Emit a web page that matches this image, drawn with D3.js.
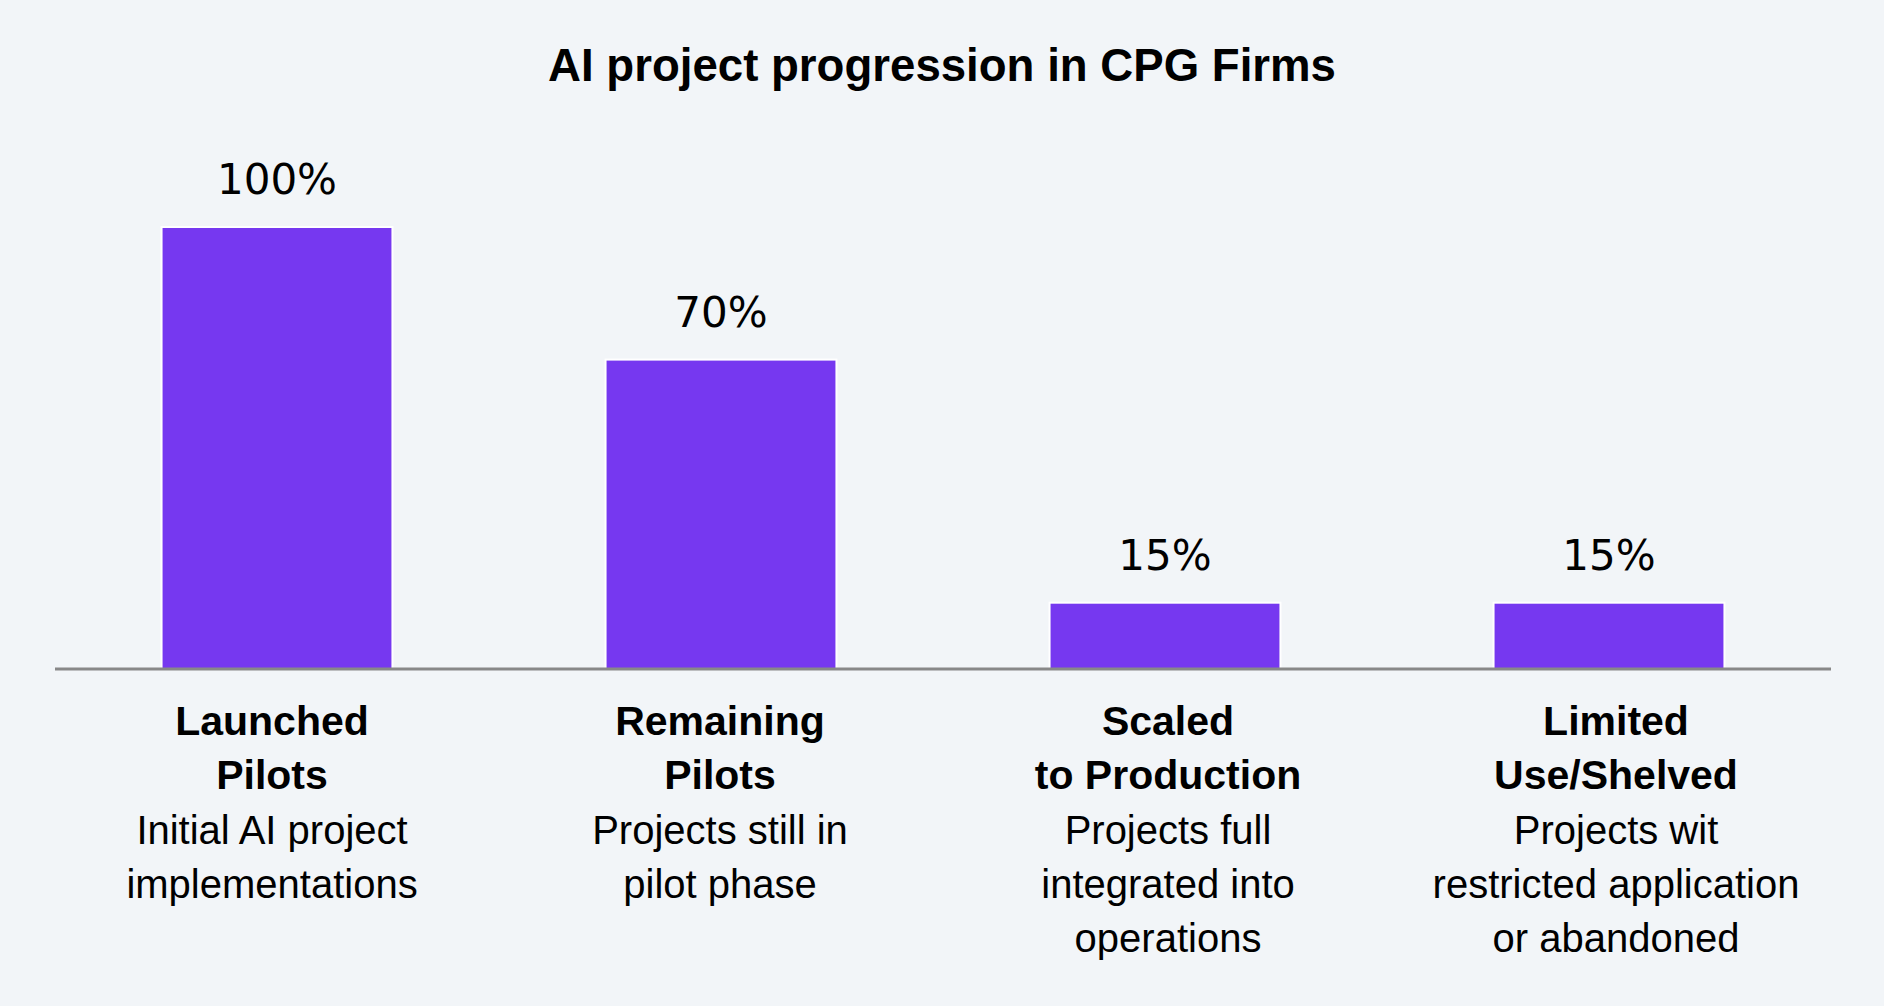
<!DOCTYPE html>
<meta charset="utf-8">
<style>
body {
  margin: 0;
  background: #f2f5f8;
}
.title {
  font: bold 45.6px "Liberation Sans", Arial, sans-serif;
  fill: #000;
}
.value {
  font: 42px "DejaVu Sans", sans-serif;
  fill: #000;
}
.cat {
  font: bold 41px "Liberation Sans", Arial, sans-serif;
  fill: #000;
}
.desc {
  font: 40px "Liberation Sans", Arial, sans-serif;
  fill: #000;
}
.bar {
  fill: #7638f0;
  stroke: #fff;
  stroke-width: 2px;
}
.baseline {
  stroke: #888;
  stroke-width: 3px;
}
</style>
<body>
<script src="https://cdn.jsdelivr.net/npm/d3@7"></script>
<script>

var categories = ["Launched Pilots", "Remaining Pilots", "Scaled to Production", "Limited Use/Shelved"]
var values = [100, 70, 15, 15]
var nameLines = [["Launched", "Pilots"], ["Remaining", "Pilots"], ["Scaled", "to Production"], ["Limited", "Use/Shelved"]]
var descLines = [
  ["Initial AI project", "implementations"],
  ["Projects still in", "pilot phase"],
  ["Projects full", "integrated into", "operations"],
  ["Projects wit", "restricted application", "or abandoned"]
]

var width = 1884,
    height = 1006;

var svg = d3.select("body").append("svg")
    .attr("width", width)
    .attr("height", height);

var x = d3.scaleBand()
    .domain(categories)
    .range([55, 1831])
    .paddingInner(0.48)
    .paddingOuter(0.24);

// labels sit on a slightly wider grid than the bars
var xl = d3.scaleBand()
    .domain(categories)
    .range([48, 1840]);

var y = d3.scaleLinear()
    .domain([0, 100])
    .range([669, 227]);

svg.append("text")
    .attr("class", "title")
    .attr("x", width / 2)
    .attr("y", 81)
    .attr("text-anchor", "middle")
    .text("AI project progression in CPG Firms");

svg.selectAll(".bar")
    .data(values)
  .enter().append("rect")
    .attr("class", "bar")
    .attr("x", (d, i) => x(categories[i]))
    .attr("width", x.bandwidth())
    .attr("y", d => y(d))
    .attr("height", d => y(0) - y(d));

svg.selectAll(".value")
    .data(values)
  .enter().append("text")
    .attr("class", "value")
    .attr("text-anchor", "middle")
    .attr("x", (d, i) => x(categories[i]) + x.bandwidth() / 2)
    .attr("y", d => y(d) - 33)
    .text(d => d + "%");

svg.append("line")
    .attr("class", "baseline")
    .attr("x1", x.range()[0])
    .attr("x2", x.range()[1])
    .attr("y1", y(0))
    .attr("y2", y(0));

var lab = svg.selectAll(".lab")
    .data(categories)
  .enter().append("g")
    .attr("class", "lab")
    .attr("transform", d => "translate(" + (xl(d) + xl.bandwidth() / 2) + "," + (y(0) + 66) + ")");

lab.each(function(d, i) {
  var g = d3.select(this);
  var lines = nameLines[i].map(t => ({t: t, c: "cat"}))
    .concat(descLines[i].map(t => ({t: t, c: "desc"})));
  g.selectAll("text")
    .data(lines)
  .enter().append("text")
    .attr("class", l => l.c)
    .attr("text-anchor", "middle")
    .attr("y", (l, j) => j * 54.3)
    .text(l => l.t);
});
</script>
